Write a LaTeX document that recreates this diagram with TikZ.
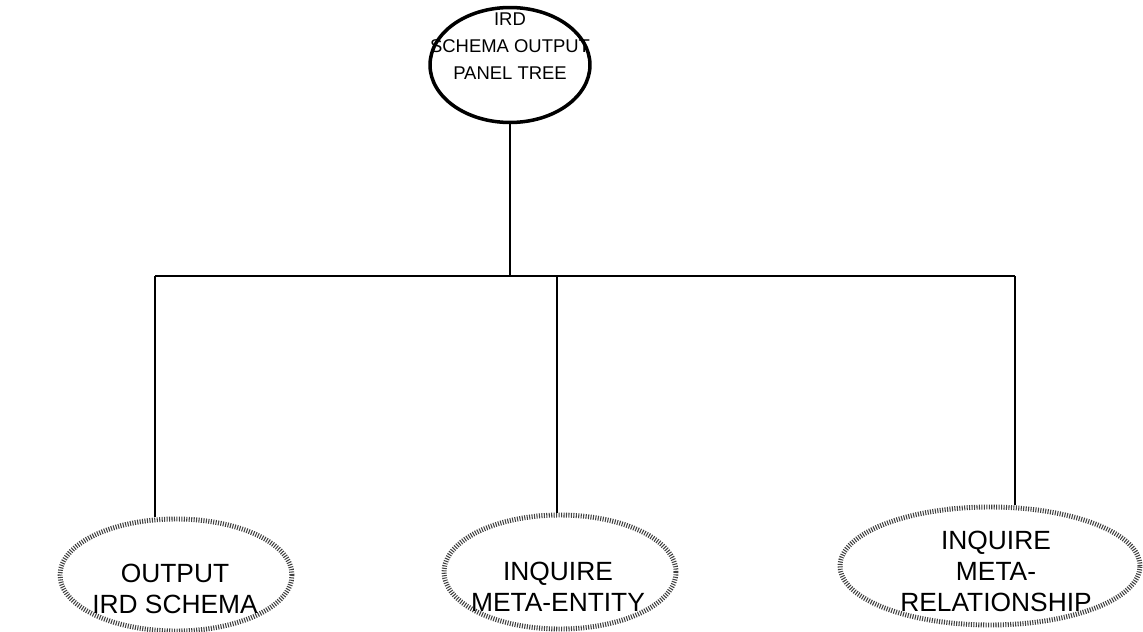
\documentclass[tikz,border=0pt]{standalone}
\usepackage{fontspec}
\setmainfont{Liberation Sans}
\usetikzlibrary{shapes.geometric}
\begin{document}
\begin{tikzpicture}[x=0.02cm,y=-0.02cm,
  topell/.style={draw=black, line width=2pt, ellipse, inner sep=0pt},
  subell/.style={draw=black!75, line width=2.8pt, dash pattern=on 0.6pt off 0.8pt, ellipse, inner sep=0pt},
  toptext/.style={align=center, font=\fontsize{10.5}{15.2}\selectfont, inner sep=0pt},
  subtext/.style={align=center, font=\fontsize{15}{17.6}\selectfont, inner sep=0pt},
  conn/.style={draw=black, line width=1.3pt}]
\fill[white] (0,0) rectangle (1143,632);
\useasboundingbox (0,0) rectangle (1143,632);
\node[topell, minimum width=3.2cm, minimum height=2.3cm] (top) at (510,65) {};
\node[toptext] (toptxt) at (510,46) {IRD\\SCHEMA OUTPUT\\PANEL TREE};
\node[subell, minimum width=4.64cm, minimum height=2.24cm] (left) at (176,575) {};
\node[subtext] (lefttxt) at (175,589) {OUTPUT\\IRD SCHEMA};
\node[subell, minimum width=4.64cm, minimum height=2.28cm] (mid) at (560,572) {};
\node[subtext] (midtxt) at (558,587) {INQUIRE\\META-ENTITY};
\node[subell, minimum width=6.0cm, minimum height=2.36cm] (right) at (990,566) {};
\node[subtext] (righttxt) at (996,571) {INQUIRE\\META-\\RELATIONSHIP};
\coordinate (jl) at (155,276);
\coordinate (jr) at (1015,276);
\coordinate (jt) at (top.south |- jl);
\coordinate (jm) at (557,276);
\draw[conn] (top.south) -- (jt);
\draw[conn] (jl) -- (jr);
\draw[conn] (jl) -- (jl |- left.north);
\draw[conn] (jm) -- (jm |- mid.north);
\draw[conn] (jr) -- (jr |- right.north);
\end{tikzpicture}
\end{document}
